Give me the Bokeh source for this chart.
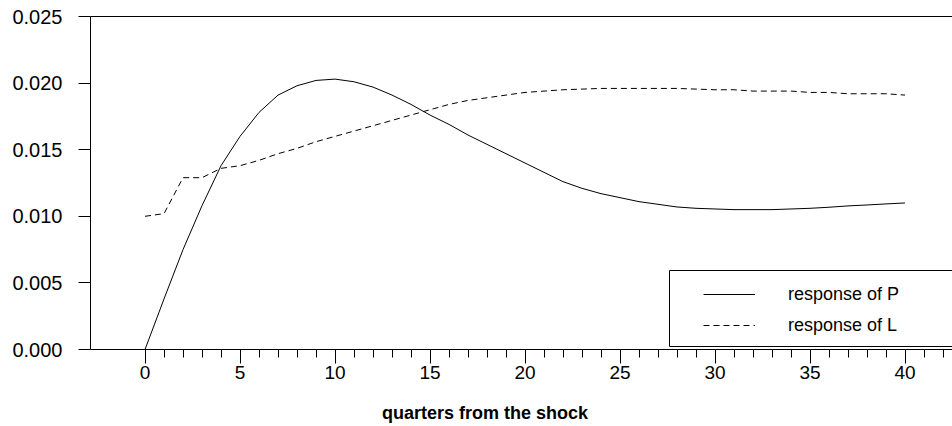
from bokeh.plotting import figure
from bokeh.models import (Range1d, FixedTicker, PrintfTickFormatter, LinearAxis,
                          Legend, LegendItem, BoxAnnotation, Label)
from bokeh.embed import file_html
from bokeh.resources import INLINE

# Impulse responses by quarter after the shock
quarters = list(range(41))
resp_p = [0.0000, 0.0038, 0.0075, 0.0108, 0.0138, 0.0160, 0.0178, 0.0191, 0.0198, 0.0202,
          0.0203, 0.0201, 0.0197, 0.0191, 0.0184, 0.0176, 0.0169, 0.0161, 0.0154, 0.0147,
          0.0140, 0.0133, 0.0126, 0.0121, 0.0117, 0.0114, 0.0111, 0.0109, 0.0107, 0.0106,
          0.01055, 0.0105, 0.0105, 0.0105, 0.01055, 0.0106, 0.01068, 0.01078, 0.01085, 0.01093,
          0.0110]
resp_l = [0.0100, 0.0102, 0.0129, 0.0129, 0.0136, 0.0138, 0.0142, 0.0147, 0.0151, 0.0156,
          0.0160, 0.0164, 0.0168, 0.0172, 0.0176, 0.0180, 0.0184, 0.0187, 0.0189, 0.0191,
          0.0193, 0.0194, 0.0195, 0.01955, 0.0196, 0.0196, 0.0196, 0.0196, 0.0196, 0.01955,
          0.0195, 0.0195, 0.0194, 0.0194, 0.0194, 0.0193, 0.0193, 0.0192, 0.0192, 0.0192,
          0.0191]

x_major_ticks = [0, 5, 10, 15, 20, 25, 30, 35, 40]
x_minor_ticks = list(range(0, 44))
y_ticks = [0.000, 0.005, 0.010, 0.015, 0.020, 0.025]

FONT = "Liberation Sans"

p = figure(width=952, height=426, output_backend="svg", toolbar_location=None,
           x_range=Range1d(-2.87, 42.5), y_range=Range1d(0, 0.025),
           min_border_left=90, min_border_right=0, min_border_top=16,
           min_border_bottom=77)
p.outline_line_color = None
p.xgrid.visible = False
p.ygrid.visible = False
p.background_fill_color = "white"
p.border_fill_color = "white"

xa = p.xaxis[0]
xa.ticker = FixedTicker(ticks=x_major_ticks, minor_ticks=x_minor_ticks)
xa.major_tick_out = 14
xa.major_tick_in = 0
xa.minor_tick_out = 8
xa.minor_tick_in = 0
xa.major_label_standoff = 2
xa.major_label_text_font = FONT
xa.major_label_text_font_size = "19px"
xa.major_label_text_color = "black"
xa.axis_line_color = "black"
xa.major_tick_line_color = "black"
xa.minor_tick_line_color = "black"

ya = p.yaxis[0]
ya.ticker = FixedTicker(ticks=y_ticks, minor_ticks=[])
ya.formatter = PrintfTickFormatter(format="%.3f")
ya.major_tick_out = 12
ya.major_tick_in = 0
ya.minor_tick_out = 0
ya.minor_tick_in = 0
ya.major_label_standoff = 16
ya.major_label_text_font = FONT
ya.major_label_text_font_size = "20px"
ya.major_label_text_color = "black"
ya.axis_line_color = "black"
ya.major_tick_line_color = "black"

# plain rule along the top of the plotting area
top = LinearAxis(ticker=FixedTicker(ticks=[], minor_ticks=[]),
                 major_tick_out=0, minor_tick_out=0, major_tick_in=0, minor_tick_in=0,
                 axis_line_color="black", major_label_text_font_size="0px")
p.add_layout(top, "above")

r_p = p.line(quarters, resp_p, line_color="black", line_width=1)
r_l = p.line(quarters, resp_l, line_color="black", line_width=1, line_dash="6 4")

# legend frame
box = BoxAnnotation(left=579, right=900, top=79, bottom=3,
                    left_units="screen", right_units="screen",
                    top_units="screen", bottom_units="screen",
                    fill_color="white", fill_alpha=1.0,
                    line_color="black", line_alpha=1.0, line_width=1)
p.add_layout(box)

legend = Legend(items=[LegendItem(label="response of P", renderers=[r_p]),
                       LegendItem(label="response of L", renderers=[r_l])],
                location=(613, 13), padding=0, margin=0, spacing=9,
                glyph_width=52, glyph_height=22, label_height=22, label_standoff=33,
                label_text_font=FONT, label_text_font_size="18px",
                label_text_color="black",
                border_line_color=None, background_fill_alpha=0.0)
p.add_layout(legend)

xlabel = Label(x=484.5, y=412, x_units="canvas", y_units="canvas",
               text="quarters from the shock", text_align="center",
               text_baseline="alphabetic", text_font=FONT, text_font_size="18px",
               text_font_style="bold", text_color="black")
p.add_layout(xlabel, "below")

open("out.html", "w").write(file_html(p, INLINE))
